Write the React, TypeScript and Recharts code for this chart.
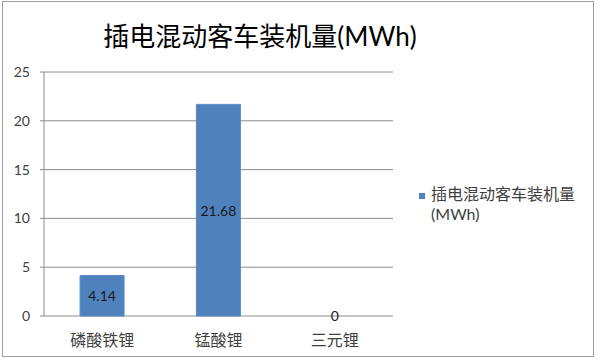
import React from "react";
import { BarChart, Bar, XAxis, YAxis, CartesianGrid, LabelList, Cell } from "recharts";

const categories = ["磷酸铁锂", "锰酸锂", "三元锂"];
const values = [4.14, 21.68, 0];
const yTicks = [0, 5, 10, 15, 20, 25];
const boundaryTicks = [0, 1, 2, 3];
const seriesName = "插电混动客车装机量(MWh)";

const data = categories.map((name, i) => ({ name, value: values[i] }));

const FONT = "Lato, 'Noto Sans CJK SC', sans-serif";
const BLUE = "#4F81BD";
const AXIS = "#8a8a8a";
const W = 600;
const H = 359;
const margin = { top: 72, right: 207, bottom: 13, left: 4 };

function BarValue(props: any) {
  const { x, y, width, height, value } = props;
  return (
    <text
      x={x + width / 2}
      y={y + height / 2}
      textAnchor="middle"
      dominantBaseline="central"
      fontSize={14}
      fill="#1a1a1a"
      fontFamily={FONT}
    >
      {value}
    </text>
  );
}

export default function App() {
  return (
    <div style={{ position: "absolute", left: 0, top: 0, width: W, height: H, background: "#fff", fontFamily: FONT }}>
      <div
        style={{
          position: "absolute",
          left: 2,
          top: 1,
          width: 592,
          height: 356,
          border: "1px solid #a0a0a0",
          boxSizing: "border-box",
        }}
      />
      <div
        style={{
          position: "absolute",
          left: 0,
          width: 520,
          top: 19,
          textAlign: "center",
          fontSize: 26,
          color: "#000",
          lineHeight: "34px",
        }}
      >
        {seriesName}
      </div>
      <BarChart width={W} height={H} data={data} margin={margin} barCategoryGap="31%">
        <CartesianGrid vertical={false} stroke="#8c8c8c" />
        <YAxis
          width={40}
          domain={[0, 25]}
          ticks={yTicks}
          interval={0}
          axisLine={{ stroke: AXIS }}
          tickLine={{ stroke: AXIS }}
          tickSize={4}
          tickMargin={10}
          tick={{ fontSize: 14, fill: "#404040", fontFamily: FONT }}
        />
        <XAxis
          xAxisId="bounds"
          type="number"
          domain={[0, 3]}
          ticks={boundaryTicks}
          interval={0}
          height={0}
          axisLine={{ stroke: AXIS }}
          tickLine={{ stroke: AXIS }}
          tickSize={5}
          tick={() => <g />}
        />
        <XAxis
          dataKey="name"
          height={30}
          axisLine={false}
          tickLine={false}
          tickMargin={13}
          tick={{ fontSize: 16, fill: "#404040", fontFamily: FONT }}
          interval={0}
        />
        <Bar dataKey="value" fill={BLUE} stroke="#5a8ac4" isAnimationActive={false} minPointSize={1}>
          {data.map((d) => (
            <Cell key={d.name} fill={d.value > 0 ? BLUE : "none"} stroke={d.value > 0 ? "#5a8ac4" : "none"} />
          ))}
          <LabelList dataKey="value" content={<BarValue />} />
        </Bar>
      </BarChart>
      <div style={{ position: "absolute", left: 419, top: 184, fontSize: 16, color: "#404040", lineHeight: "20px" }}>
        <span
          style={{
            display: "inline-block",
            width: 6,
            height: 6,
            background: BLUE,
            marginRight: 6,
            verticalAlign: "middle",
          }}
        />
        <span>插电混动客车装机量</span>
        <div style={{ paddingLeft: 12 }}>(MWh)</div>
      </div>
    </div>
  );
}
